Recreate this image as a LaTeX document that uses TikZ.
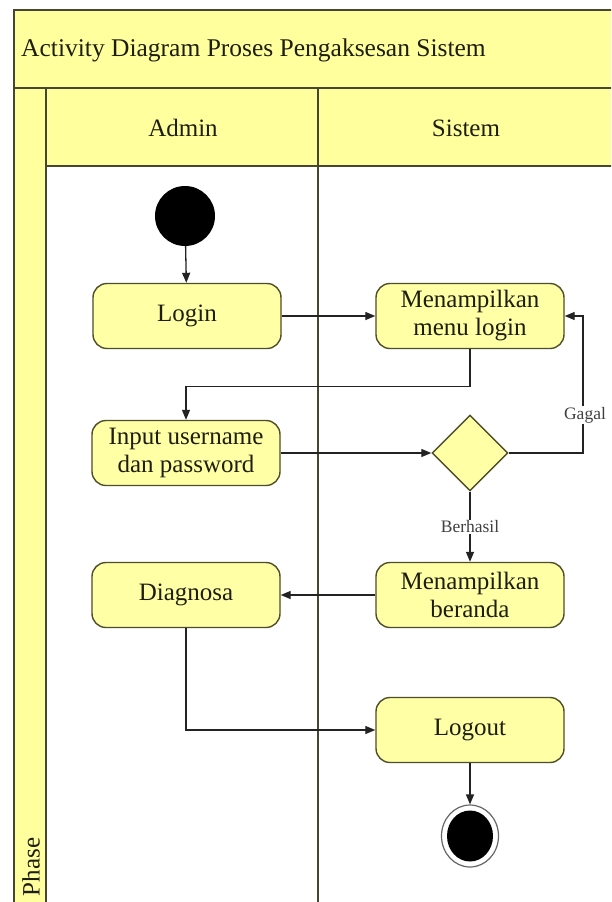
\documentclass[tikz,border=0pt]{standalone}
\usepackage{fontspec}
\setmainfont{Liberation Serif}
\usetikzlibrary{arrows.meta,shapes.geometric}
\definecolor{lanefill}{RGB}{255,255,158}
\definecolor{boxfill}{RGB}{255,255,165}
\definecolor{edgecol}{RGB}{78,78,40}
\definecolor{framecol}{RGB}{70,70,50}
\definecolor{ink}{RGB}{30,30,15}
\definecolor{flowcol}{RGB}{35,35,35}
\tikzset{
  x=1pt, y=-1pt,
  act/.style={draw=edgecol, line width=1.4pt, fill=boxfill, rounded corners=14pt,
    minimum width=188pt, minimum height=65pt, align=center, inner sep=0pt,
    text=ink, font=\fontsize{25}{28}\selectfont},
  choice/.style={diamond, draw=edgecol, line width=1.4pt, fill=boxfill,
    minimum width=76pt, minimum height=76pt, inner sep=0pt},
  flow/.style={draw=flowcol, line width=1.3pt, -{Triangle[length=10pt,width=8pt]}},
  guard/.style={fill=white, inner sep=1pt, text=black!75, font=\fontsize{17.5}{20}\selectfont},
  frameline/.style={draw=framecol, line width=2pt},
  laneline/.style={draw=framecol, line width=1.5pt},
  head/.style={text=ink, font=\fontsize{25}{28}\selectfont, inner sep=0pt},
}
\begin{document}
\begin{tikzpicture}
\useasboundingbox (0,0) rectangle (611,902);
\clip (0,0) rectangle (611,902);
\fill[white] (0,0) rectangle (611,902);

% swimlane bands
\fill[lanefill] (14,10) rectangle (640,88);
\fill[lanefill] (14,88) rectangle (46,930);
\fill[lanefill] (46,88) rectangle (640,166);

% swimlane borders
\draw[frameline] (640,10) -- (14,10) -- (14,930);
\draw[laneline] (14,88) -- (640,88);
\draw[laneline] (46,88) -- (46,930);
\draw[laneline] (46,166) -- (640,166);
\draw[laneline] (318,88) -- (318,930);

% headings
\node[head, anchor=west, font=\fontsize{25.5}{28}\selectfont] (title) at (21,50) {Activity Diagram Proses Pengaksesan Sistem};
\node[head] (admin) at (183,128) {Admin};
\node[head] (sistem) at (466,128) {Sistem};
\node[head, rotate=90] (phase) at (31,867) {Phase};

% activities
\node[circle, fill=black, minimum size=60pt, inner sep=0pt] (start) at (185,216) {};
\node[act] (login) at (187,316) {Login};
\node[act] (menu) at (470,316) {Menampilkan\\menu login};
\node[act] (input) at (186,453) {Input username\\dan password};
\node[choice] (dec) at (470,453) {};
\node[act] (beranda) at (470,595) {Menampilkan\\beranda};
\node[act] (diag) at (186,595) {Diagnosa};
\node[act] (logout) at (470,730) {Logout};
\node[ellipse, draw=black!60, line width=1.2pt, fill=white, minimum width=57pt, minimum height=62pt, inner sep=0pt] (stop) at (470,836) {};
\node[ellipse, fill=black, minimum width=46pt, minimum height=51pt, inner sep=0pt] (stopdot) at (470,836) {};

% control flow
\coordinate (gx) at (583,0);
\draw[flow] (start) -- (login);
\draw[flow] (login) -- (menu);
\draw[flow] (menu.south) -- ++(0,37) -| (input.north);
\draw[flow] (input) -- (dec);
\draw[flow] (dec.east) -- (dec.east -| gx) |- (menu.east);
\node[guard] (gagal) at (585,415) {Gagal};
\draw[flow] (dec) -- node[guard] (berhasil) {Berhasil} (beranda);
\draw[flow] (beranda) -- (diag);
\draw[flow] (diag.south) |- (logout.west);
\draw[flow] (logout) -- (stop);
\end{tikzpicture}
\end{document}
